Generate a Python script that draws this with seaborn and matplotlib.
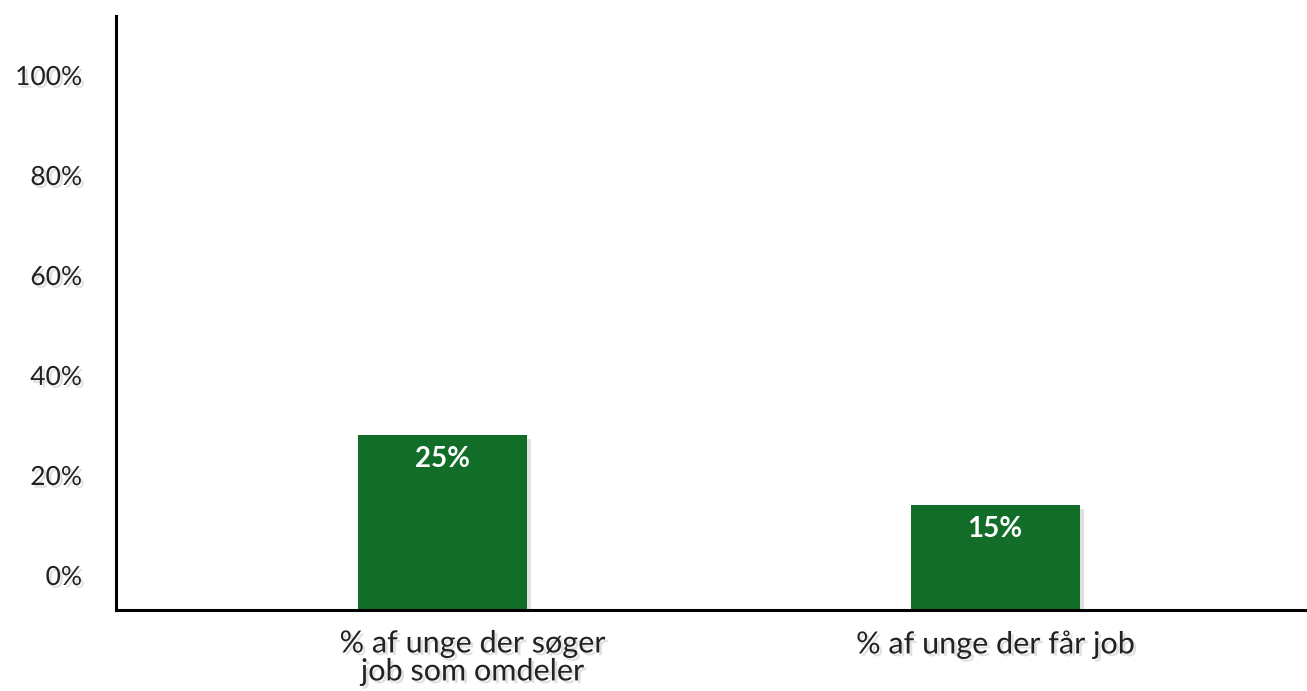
import matplotlib
matplotlib.use("Agg")
import matplotlib.pyplot as plt
import matplotlib.patheffects as pe
from matplotlib.transforms import ScaledTranslation
import seaborn as sns
import pandas as pd

categories = ["% af unge der søger\njob som omdeler", "% af unge der får job"]
values = [25, 15]
tick_values = [0, 20, 40, 60, 80, 100]
tick_labels = ["0%", "20%", "40%", "60%", "80%", "100%"]

sns.set_theme(style="white")
plt.rcParams['font.family'] = ['Lato', 'DejaVu Sans']

fig = plt.figure(figsize=(13.07, 6.91), dpi=100)
ax = fig.add_axes([116/1307, 81/691, 1 - 116/1307, (610-16)/691])

df = pd.DataFrame({"cat": categories, "val": values})
shadow = [pe.SimplePatchShadow(offset=(3, -3), shadow_rgbFace="#999999", alpha=0.3), pe.Normal()]
sns.barplot(data=df, x="cat", y="val", color="#116d27", saturation=1, width=0.306, ax=ax)
for p in ax.patches:
    p.set_path_effects(shadow)
    p.set_edgecolor("none")

ax.set_xlim(-0.59, 1.564)
ax.set_ylim(0, 594/7)
ax.set_xlabel("")
ax.set_ylabel("")
ax.set_yticks([])

for i, v in enumerate(values):
    ax.annotate(f"{v}%", (i, v), xytext=(0, -24), textcoords="offset pixels",
                ha="center", va="center", color="white", fontsize=20, fontweight="bold")

ax.tick_params(axis="x", length=0, pad=14, labelsize=22, colors="#222222")
txt_shadow = [pe.withSimplePatchShadow(offset=(2, -2), shadow_rgbFace="#bbbbbb", alpha=0.45)]
for k, lab in enumerate(ax.get_xticklabels()):
    lab.set_linespacing(1.0)
    lab.set_path_effects(txt_shadow)
    if k == 0:
        lab.set_transform(lab.get_transform() + ScaledTranslation(30/100, 0, fig.dpi_scale_trans))

for s in ["top", "right"]:
    ax.spines[s].set_visible(False)
for s in ["left", "bottom"]:
    ax.spines[s].set_color("black")
    ax.spines[s].set_linewidth(2.2)

# tick labels on separate scale
ax2 = ax.twinx()
ax2.yaxis.set_ticks_position("left")
ax2.set_ylim(-7, 111.8)
ax2.set_yticks(tick_values)
ax2.set_yticklabels(tick_labels)
ax2.tick_params(axis="y", length=0, pad=24.5, labelsize=19, colors="#222222", left=True, right=False, labelleft=True, labelright=False)
for lab in ax2.get_yticklabels():
    lab.set_path_effects(txt_shadow)
for s in ax2.spines.values():
    s.set_visible(False)
ax2.grid(False)

fig.savefig("out.png", dpi=100)
